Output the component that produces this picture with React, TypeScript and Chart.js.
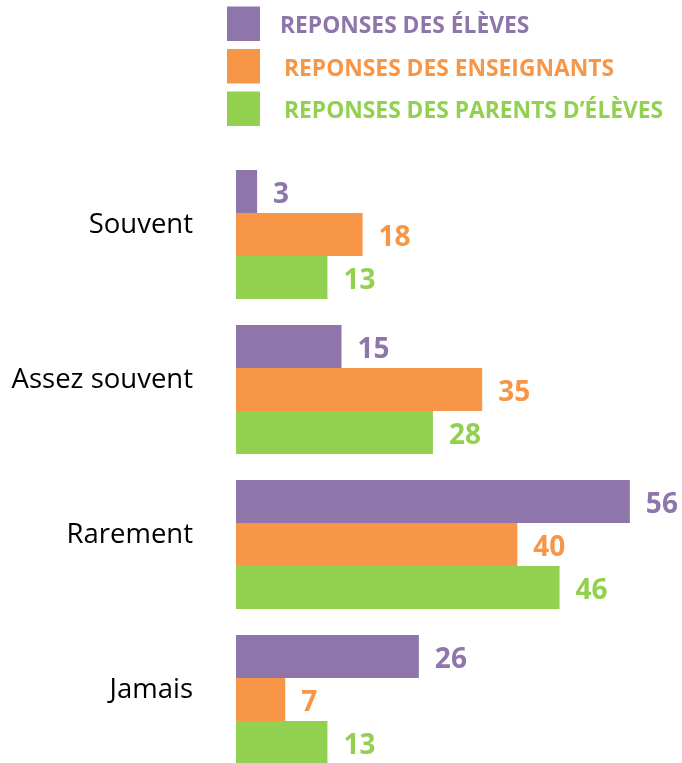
import React, { useEffect, useRef } from "react";
import { Chart, registerables } from "chart.js";

Chart.register(...registerables);

const categories = ["Souvent", "Assez souvent", "Rarement", "Jamais"];
const seriesNames = [
  "REPONSES DES ÉLÈVES",
  "REPONSES DES ENSEIGNANTS",
  "REPONSES DES PARENTS D’ÉLÈVES",
];
const eleves = [3, 15, 56, 26];
const enseignants = [18, 35, 40, 7];
const parents = [13, 28, 46, 13];
const colors = ["#8E76AB", "#F79646", "#92D050"];

const FONT = "'Open Sans', 'DejaVu Sans', sans-serif";

const legendPlugin = {
  id: "customLegend",
  afterDraw(chart: any) {
    const ctx = chart.ctx;
    ctx.save();
    chart.data.datasets.forEach((ds: any, i: number) => {
      const top = 6.5 + i * 42.5;
      ctx.fillStyle = ds.backgroundColor;
      ctx.fillRect(227, top, 33, 34.5);
      ctx.font = `bold 22.8px ${FONT}`;
      ctx.textAlign = "left";
      ctx.textBaseline = "alphabetic";
      ctx.fillText(ds.label, i === 0 ? 280 : 284, 33 + i * 42.5);
    });
    ctx.restore();
  },
};

const valueLabelPlugin = {
  id: "valueLabels",
  afterDatasetsDraw(chart: any) {
    const ctx = chart.ctx;
    ctx.save();
    ctx.font = `bold 28px ${FONT}`;
    ctx.textAlign = "left";
    ctx.textBaseline = "alphabetic";
    chart.data.datasets.forEach((ds: any, i: number) => {
      const meta = chart.getDatasetMeta(i);
      meta.data.forEach((bar: any, j: number) => {
        ctx.fillStyle = ds.backgroundColor;
        ctx.fillText(String(ds.data[j]), bar.x + 16, bar.y + 11.5);
      });
    });
    ctx.restore();
  },
};

export default function App() {
  const ref = useRef<HTMLCanvasElement | null>(null);

  useEffect(() => {
    document.body.style.margin = "0";
    const canvas = ref.current;
    if (!canvas) return;
    const chart = new Chart(canvas, {
      type: "bar",
      data: {
        labels: categories,
        datasets: [
          { label: seriesNames[0], data: eleves, backgroundColor: colors[0] },
          { label: seriesNames[1], data: enseignants, backgroundColor: colors[1] },
          { label: seriesNames[2], data: parents, backgroundColor: colors[2] },
        ],
      },
      options: {
        indexAxis: "y",
        animation: false,
        responsive: true,
        maintainAspectRatio: false,
        layout: { padding: { top: 157, bottom: 13, left: 0, right: 24 } },
        datasets: {
          bar: { categoryPercentage: 0.832, barPercentage: 1 },
        },
        plugins: {
          legend: { display: false },
          tooltip: { enabled: false },
        },
        scales: {
          x: {
            display: false,
            min: 0,
            max: 60,
          },
          y: {
            grid: { display: false, drawTicks: false },
            border: { display: false },
            ticks: {
              color: "#000000",
              font: { family: FONT, size: 27.5 },
              padding: 43,
              labelOffset: -9,
            },
            afterFit(scale: any) {
              scale.width = 236;
              scale.paddingTop = 0;
              scale.paddingBottom = 0;
            },
          },
        },
      },
      plugins: [legendPlugin, valueLabelPlugin],
    });
    return () => chart.destroy();
  }, []);

  return (
    <div style={{ position: "relative", width: 682, height: 790 }}>
      <canvas ref={ref} />
    </div>
  );
}
